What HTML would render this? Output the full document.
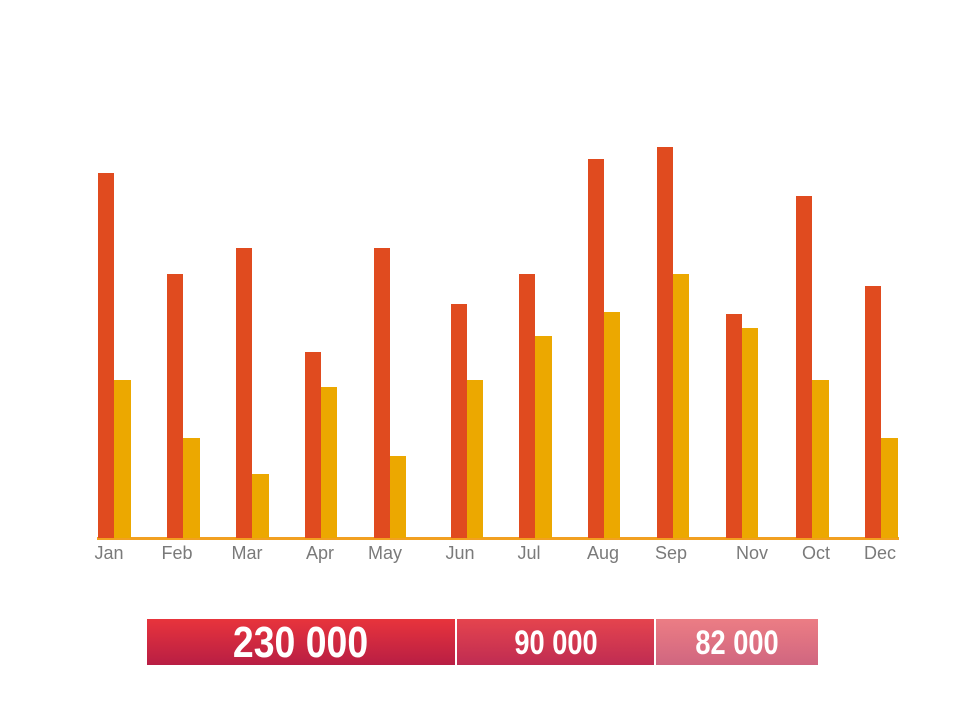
<!DOCTYPE html>
<html><head><meta charset="utf-8"><style>
body{margin:0;width:960px;height:720px;background:#fff;position:relative;overflow:hidden;font-family:"Liberation Sans",sans-serif}
.b{position:absolute;width:16px}
.o{background:#e04b1f}.y{background:#eca800}
.l{position:absolute;top:543px;color:#7a7a7a;font-size:18px;width:60px;text-align:center;margin-left:-30px}
.box{position:absolute;top:619px;height:46px;color:#fff;font-weight:bold;text-align:center;line-height:48px}
.box span{display:inline-block;transform-origin:center}
</style></head><body>
<div style="position:absolute;left:97px;top:537px;width:802px;height:3px;background:#f2a020"></div>
<div class="b o" style="left:98px;top:173px;height:365px"></div><div class="b y" style="left:114px;top:380px;height:158px;width:17px"></div>
<div class="b o" style="left:167px;top:274px;height:264px"></div><div class="b y" style="left:183px;top:438px;height:100px;width:17px"></div>
<div class="b o" style="left:236px;top:248px;height:290px"></div><div class="b y" style="left:252px;top:474px;height:64px;width:17px"></div>
<div class="b o" style="left:305px;top:352px;height:186px"></div><div class="b y" style="left:321px;top:387px;height:151px"></div>
<div class="b o" style="left:374px;top:248px;height:290px"></div><div class="b y" style="left:390px;top:456px;height:82px"></div>
<div class="b o" style="left:451px;top:304px;height:234px"></div><div class="b y" style="left:467px;top:380px;height:158px"></div>
<div class="b o" style="left:519px;top:274px;height:264px"></div><div class="b y" style="left:535px;top:336px;height:202px;width:17px"></div>
<div class="b o" style="left:588px;top:159px;height:379px"></div><div class="b y" style="left:604px;top:312px;height:226px"></div>
<div class="b o" style="left:657px;top:147px;height:391px"></div><div class="b y" style="left:673px;top:274px;height:264px"></div>
<div class="b o" style="left:726px;top:314px;height:224px"></div><div class="b y" style="left:742px;top:328px;height:210px"></div>
<div class="b o" style="left:796px;top:196px;height:342px"></div><div class="b y" style="left:812px;top:380px;height:158px;width:17px"></div>
<div class="b o" style="left:865px;top:286px;height:252px"></div><div class="b y" style="left:881px;top:438px;height:100px;width:17px"></div>
<div class="l" style="left:109px">Jan</div><div class="l" style="left:177px">Feb</div><div class="l" style="left:247px">Mar</div><div class="l" style="left:320px">Apr</div><div class="l" style="left:385px">May</div><div class="l" style="left:460px">Jun</div><div class="l" style="left:529px">Jul</div><div class="l" style="left:603px">Aug</div><div class="l" style="left:671px">Sep</div><div class="l" style="left:752px">Nov</div><div class="l" style="left:816px">Oct</div><div class="l" style="left:880px">Dec</div>
<div class="box" style="left:147px;width:308px;font-size:44px;background:linear-gradient(#e8343c,#b81e44)"><span style="transform:scaleX(0.85)">230 000</span></div>
<div class="box" style="left:457px;width:197px;font-size:34px;background:linear-gradient(#e5444e,#bf2c52)"><span style="transform:scaleX(0.8)">90 000</span></div>
<div class="box" style="left:656px;width:162px;font-size:34px;background:linear-gradient(#ec7d84,#d06680)"><span style="transform:scaleX(0.8)">82 000</span></div>
</body></html>
